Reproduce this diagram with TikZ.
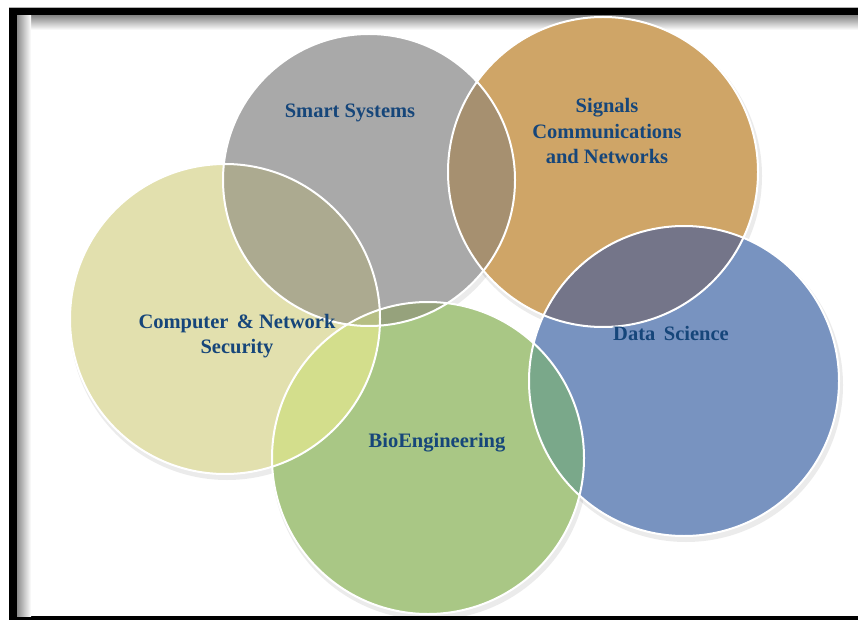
\documentclass[tikz,border=0pt]{standalone}
\usepackage{fontspec}
\setmainfont{Liberation Serif}
\usetikzlibrary{calc}
\definecolor{cgrey}{RGB}{169,169,169}
\definecolor{corange}{RGB}{207,165,103}
\definecolor{cyellow}{RGB}{226,224,174}
\definecolor{cgreen}{RGB}{169,199,133}
\definecolor{cblue}{RGB}{120,147,192}
\definecolor{oSC}{RGB}{172,170,144}
\definecolor{oSG}{RGB}{166,144,112}
\definecolor{oGD}{RGB}{116,117,137}
\definecolor{oDB}{RGB}{122,168,138}
\definecolor{oCB}{RGB}{211,222,140}
\definecolor{oSB}{RGB}{150,162,124}
\definecolor{oSCB}{RGB}{182,190,132}
\definecolor{ctext}{RGB}{22,70,122}
\tikzset{
  lbl/.style={font=\fontsize{20.5}{25.5}\selectfont\bfseries, text=ctext, align=center, inner sep=0pt},
  ring/.style={draw=white, line width=2pt},
  shad/.style={fill=black, fill opacity=0.08}
}
\begin{document}
\begin{tikzpicture}[x=1pt,y=-1pt]
\useasboundingbox (0,0) rectangle (858,620);
% frame
\fill[white] (0,0) rectangle (858,620);
\fill[black] (9,8) rectangle (858,620);
\fill[white] (17,16) rectangle (858,616);
\shade[top color=black!45, bottom color=white] (17,16) rectangle (858,30);
\shade[left color=black!45, right color=white] (17,16) rectangle (31,616);
\fill[gray!60] (9,7) rectangle (858,8);
% centers
\coordinate (cC) at (225,319);
\coordinate (cS) at (369,180);
\coordinate (cG) at (603,172);
\coordinate (cB) at (428,458);
\coordinate (cD) at (684,381);
% shadows
\foreach \c/\r in {cC/155,cS/146,cG/155,cB/156,cD/155}{
  \fill[shad] ($(\c)+(2,4)$) circle[radius=\r pt+2pt];
}
% base fills
\fill[cyellow] (cC) circle[radius=155pt];
\fill[cgrey] (cS) circle[radius=146pt];
\fill[corange] (cG) circle[radius=155pt];
\fill[cgreen] (cB) circle[radius=156pt];
\fill[cblue] (cD) circle[radius=155pt];
% overlaps
\begin{scope}\clip (cS) circle[radius=146pt]; \fill[oSC] (cC) circle[radius=155pt]; \end{scope}
\begin{scope}\clip (cS) circle[radius=146pt]; \fill[oSG] (cG) circle[radius=155pt]; \end{scope}
\begin{scope}\clip (cG) circle[radius=155pt]; \fill[oGD] (cD) circle[radius=155pt]; \end{scope}
\begin{scope}\clip (cD) circle[radius=155pt]; \fill[oDB] (cB) circle[radius=156pt]; \end{scope}
\begin{scope}\clip (cC) circle[radius=155pt]; \fill[oCB] (cB) circle[radius=156pt]; \end{scope}
\begin{scope}\clip (cS) circle[radius=146pt]; \fill[oSB] (cB) circle[radius=156pt]; \end{scope}
\begin{scope}\clip (cS) circle[radius=146pt]; \clip (cC) circle[radius=155pt]; \fill[oSCB] (cB) circle[radius=156pt]; \end{scope}
% outlines
\node[circle, minimum size=310pt, inner sep=0pt, ring] (comp) at (cC) {};
\node[circle, minimum size=292pt, inner sep=0pt, ring] (smart) at (cS) {};
\node[circle, minimum size=310pt, inner sep=0pt, ring] (sig) at (cG) {};
\node[circle, minimum size=312pt, inner sep=0pt, ring] (bio) at (cB) {};
\node[circle, minimum size=310pt, inner sep=0pt, ring] (data) at (cD) {};
% labels
\node[lbl] (tsmart) at (350,113) {Smart Systems};
\node[lbl] (tsig) at (607,131) {Signals\\Communications\\and Networks};
\node[lbl] (tcomp) at (237,336) {Computer \,\& Network\\Security};
\node[lbl] (tdata) at (671,333) {Data \,Science};
\node[lbl] (tbio) at (437,443) {BioEngineering};
\end{tikzpicture}
\end{document}
